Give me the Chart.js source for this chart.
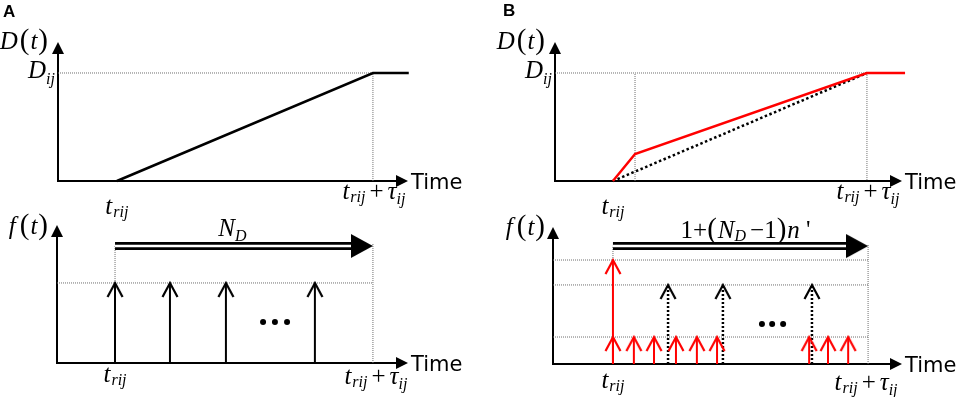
<!DOCTYPE html>
<html>
<head>
<meta charset="utf-8">
<script src="https://cdn.jsdelivr.net/npm/chart.js@4.4.0/dist/chart.umd.min.js"></script>
<style>
  html, body { margin: 0; padding: 0; background: #fff; }
  #fig { position: relative; width: 957px; height: 397px; overflow: hidden; }
  #fig canvas { position: absolute; left: 0; top: 0; }
</style>
</head>
<body>
<div id="fig">
  <canvas id="cA1" width="957" height="397"></canvas>
  <canvas id="cB1" width="957" height="397"></canvas>
  <canvas id="cA2" width="957" height="397"></canvas>
  <canvas id="cB2" width="957" height="397"></canvas>
</div>
<script>
// time is in units of tau_ij, starting at t_rij = 0

// panel A, D(t)
const dA_time = [0, 1, 1.14];
const dA_value = [0, 1, 1];

// panel B, D(t): fast first step, then linear
const dB_time = [0, 0.087, 1, 1.15];
const dB_value = [0, 0.25, 1, 1];
const dB_ref_time = [0, 1];
const dB_ref_value = [0, 1];
const kneeB = 0.087;

// panel A, f(t)
const fA_pulses = [0, 0.213, 0.43, 0.775];
const fA_level = 0.58;
const fA_dots = [0.574, 0.62, 0.667];
const fA_dotsY = 0.297;
const spanA = 0.848;
const spanA_base = 0.915;

// panel B, f(t)
const fB_small = [0, 0.082, 0.161, 0.247, 0.329, 0.408, 0.769, 0.843, 0.922];
const fB_small_level = 0.197;
const fB_dotted = [0.216, 0.431, 0.78];
const fB_dotted_level = 0.577;
const fB_first_level = 0.759;
const fB_dots = [0.584, 0.624, 0.667];
const fB_dotsY = 0.292;
const spanB = 0.861;
const spanB_base = 0.918;

// text
const lblStart = [['t', 'i'], 1, ['rij', 's', 3]];
const lblEnd = [['t', 'i'], 1, ['rij', 's', 3], 4, ['+', 'r'], 4, ['\u03c4', 'i'], ['ij', 's', 5]];
const lblD = [['D', 'i'], 2, ['(', 'p'], 1, ['t', 'i'], 1, [')', 'p']];
const lblF = [['f', 'i'], 4, ['(', 'p'], 1, ['t', 'i'], 1, [')', 'p']];
const lblDij = [['D', 'i'], ['ij', 's', 6]];
const lblND = [['N', 'i'], ['D', 's', 5]];
const lblNB = [['1+', 'r'], ['(', 'p'], 1, ['N', 'i'], ['D', 's', 3], 4, ['\u22121', 'r'], [')', 'p'], 1, ['n', 'i'], [" '", 'r']];
const lblTime = [['Time', 't']];

const RED = '#ff0000';
const GUIDE = '#6e6e6e';

const FONTS = {
  i: 'italic 25px "Liberation Serif"',
  r: '25px "Liberation Serif"',
  p: '29px "Liberation Serif"',
  s: 'italic 16px "Liberation Serif"',
  b: 'bold 17px "Liberation Sans"',
  t: '21px "DejaVu Sans"'
};

function drawRuns(ctx, runs, x, y, align) {
  let w = 0;
  runs.forEach(r => {
    if (typeof r === 'number') { w += r; return; }
    ctx.font = FONTS[r[1]];
    w += ctx.measureText(r[0]).width;
  });
  let cx = align === 'center' ? x - w / 2 : align === 'right' ? x - w : x;
  ctx.textAlign = 'left';
  ctx.textBaseline = 'alphabetic';
  ctx.fillStyle = '#000';
  runs.forEach(r => {
    if (typeof r === 'number') { cx += r; return; }
    ctx.font = FONTS[r[1]];
    ctx.fillText(r[0], cx, y + (r[2] || 0));
    cx += ctx.measureText(r[0]).width;
  });
}

function chevron(color) {
  const c = document.createElement('canvas');
  c.width = 18; c.height = 30;
  const g = c.getContext('2d');
  g.strokeStyle = color;
  g.lineWidth = 2.2;
  g.beginPath();
  g.moveTo(1.5, 29); g.lineTo(9, 15); g.lineTo(16.5, 29);
  g.stroke();
  return c;
}

function spanHead() {
  const c = document.createElement('canvas');
  c.width = 44; c.height = 26;
  const g = c.getContext('2d');
  g.fillStyle = '#000';
  g.beginPath();
  g.moveTo(0, 1); g.lineTo(22, 13); g.lineTo(0, 25);
  g.closePath(); g.fill();
  return c;
}

const headBlack = chevron('#000');
const headRed = chevron(RED);
const headSpan = spanHead();

function line(xs, ys, color, width, dash, order) {
  return {
    data: xs.map((x, i) => ({ x: x, y: ys[i] })),
    borderColor: color, borderWidth: width, borderDash: dash || [],
    pointRadius: 0, fill: false, tension: 0, clip: false, order: order || 5
  };
}

function pulse(x, top, color, width, dash, head, order) {
  const ds = line([x, x], [0, top], color, width, dash, order);
  ds.pointRadius = c => c.dataIndex === 1 ? 4 : 0;
  ds.pointStyle = c => c.dataIndex === 1 ? head : 'circle';
  return ds;
}

function span(x0, x1, y, order) {
  return [
    Object.assign(line([x0, x1], [y, y], '#000', 8, [], order + 2), { borderCapStyle: 'butt' }),
    Object.assign(line([x0, x1], [y, y], '#fff', 2.5, [], order + 1), { borderCapStyle: 'butt' }),
    { data: [{ x: 1, y: y }], showLine: false, pointRadius: 4, pointStyle: headSpan, clip: false, order: order }
  ];
}

function dots(xs, y) {
  return {
    data: xs.map(x => ({ x: x, y: y })), showLine: false,
    pointRadius: 3, pointBackgroundColor: '#000', pointBorderWidth: 0, clip: false, order: 1
  };
}

function makeDecor(labels) {
  return {
    id: 'decor',
    beforeDatasetsDraw(chart) {
      const { ctx, chartArea: a, scales: { x, y } } = chart;
      const ox = x.getPixelForValue(x.min);
      const oy = y.getPixelForValue(0);
      ctx.save();
      ctx.strokeStyle = '#000';
      ctx.fillStyle = '#000';
      ctx.lineWidth = 2;
      ctx.beginPath();
      ctx.moveTo(ox - 1, oy); ctx.lineTo(a.right - 8, oy);
      ctx.moveTo(ox, oy); ctx.lineTo(ox, a.top + 8);
      ctx.stroke();
      ctx.beginPath();
      ctx.moveTo(a.right, oy); ctx.lineTo(a.right - 12, oy - 6); ctx.lineTo(a.right - 12, oy + 6);
      ctx.closePath(); ctx.fill();
      ctx.beginPath();
      ctx.moveTo(ox, a.top); ctx.lineTo(ox - 6, a.top + 12); ctx.lineTo(ox + 6, a.top + 12);
      ctx.closePath(); ctx.fill();
      ctx.restore();
    },
    afterDraw(chart) {
      const { ctx, chartArea: a, scales: { x, y } } = chart;
      const X = v => x.getPixelForValue(v);
      const Y = v => y.getPixelForValue(v);
      ctx.save();
      labels(X, Y, a, x.min).forEach(l => drawRuns(ctx, l[0], l[1], l[2], l[3]));
      ctx.restore();
    }
  };
}

function panel(id, area, xr, yr, datasets, labels) {
  return new Chart(document.getElementById(id), {
    type: 'line',
    data: { datasets: datasets },
    options: {
      responsive: false,
      animation: false,
      events: [],
      layout: { padding: { left: area[0], top: area[1], right: 957 - area[2], bottom: 397 - area[3] } },
      scales: {
        x: { type: 'linear', display: false, min: xr[0], max: xr[1] },
        y: { type: 'linear', display: false, min: yr[0], max: yr[1] }
      },
      plugins: { legend: { display: false }, tooltip: { enabled: false } }
    },
    plugins: [makeDecor(labels)]
  });
}

// A: D(t)
const xA1 = [-0.230, 1.137];
panel('cA1', [58, 42, 408, 181], xA1, [0, 1.287], [
  line([xA1[0], 1, 1], [1, 1, 0], GUIDE, 1, [1, 1], 10),
  line(dA_time, dA_value, '#000', 2.5, [], 2)
], (X, Y, a, m) => [
  [[['A', 'b']], 3, 17, 'left'],
  [lblD, X(m) - 10, a.top + 7, 'right'],
  [lblDij, X(m) - 3, Y(1) + 5, 'right'],
  [lblStart, X(0), Y(0) + 33, 'center'],
  [lblEnd, X(1) + 1, Y(0) + 18, 'center'],
  [lblTime, a.right + 3, Y(0) + 8, 'left']
]);

// B: D(t)
const xB1 = [-0.228, 1.138];
panel('cB1', [555, 42, 902, 181], xB1, [0, 1.287], [
  line([xB1[0], 1, 1], [1, 1, 0], GUIDE, 1, [1, 1], 10),
  line([kneeB, kneeB], [0, 1], GUIDE, 1, [1, 1], 10),
  line(dB_ref_time, dB_ref_value, '#000', 2.5, [2.5, 2.5], 3),
  line(dB_time, dB_value, RED, 2.5, [], 2)
], (X, Y, a, m) => [
  [[['B', 'b']], 503, 16, 'left'],
  [lblD, X(m) - 10, a.top + 7, 'right'],
  [lblDij, X(m) - 3, Y(1) + 5, 'right'],
  [lblStart, X(0), Y(0) + 33, 'center'],
  [lblEnd, X(1) + 1, Y(0) + 18, 'center'],
  [lblTime, a.right + 3, Y(0) + 8, 'left']
]);

// A: f(t)
const xA2 = [-0.225, 1.136];
panel('cA2', [57, 225, 408, 363], xA2, [0, 1], [
  line([xA2[0], 1], [fA_level, fA_level], GUIDE, 1, [1, 1], 10),
  line([1, 1], [0, 0.87], GUIDE, 1, [1, 1], 10),
  line([0, 0], [fA_level, spanA], GUIDE, 1, [1, 1], 10),
  ...span(0, spanA_base, spanA, 6),
  ...fA_pulses.map(x => pulse(x, fA_level, '#000', 2, [], headBlack, 3)),
  dots(fA_dots, fA_dotsY)
], (X, Y, a, m) => [
  [lblF, X(m) - 9, a.top + 9, 'right'],
  [lblND, X(0.455), Y(spanA) - 10, 'center'],
  [lblStart, X(0), Y(0) + 19, 'center'],
  [lblEnd, X(1) + 3, Y(0) + 21, 'center'],
  [lblTime, a.right + 3, Y(0) + 8, 'left']
]);

// B: f(t)
const xB2 = [-0.235, 1.133];
panel('cB2', [553, 227, 902, 364], xB2, [0, 1], [
  line([xB2[0], 1], [fB_small_level, fB_small_level], GUIDE, 1, [1, 1], 10),
  line([xB2[0], 1], [fB_dotted_level, fB_dotted_level], GUIDE, 1, [1, 1], 10),
  line([xB2[0], 1], [fB_first_level, fB_first_level], GUIDE, 1, [1, 1], 10),
  line([1, 1], [0, 0.87], GUIDE, 1, [1, 1], 10),
  line([0, 0], [fB_first_level, spanB], GUIDE, 1, [1, 1], 10),
  ...span(0, spanB_base, spanB, 6),
  ...fB_dotted.map(x => pulse(x, fB_dotted_level, '#000', 2.5, [2, 2], headBlack, 4)),
  pulse(0, fB_first_level, RED, 2, [], headRed, 3),
  ...fB_small.map(x => pulse(x, fB_small_level, RED, 2, [], headRed, 3)),
  dots(fB_dots, fB_dotsY)
], (X, Y, a, m) => [
  [lblF, X(m) - 8, a.top + 8, 'right'],
  [lblNB, X(0.52), Y(spanB) - 8, 'center'],
  [lblStart, X(0), Y(0) + 24, 'center'],
  [lblEnd, X(1) - 2, Y(0) + 26, 'center'],
  [lblTime, a.right + 3, Y(0) + 8, 'left']
]);
</script>
</body>
</html>
